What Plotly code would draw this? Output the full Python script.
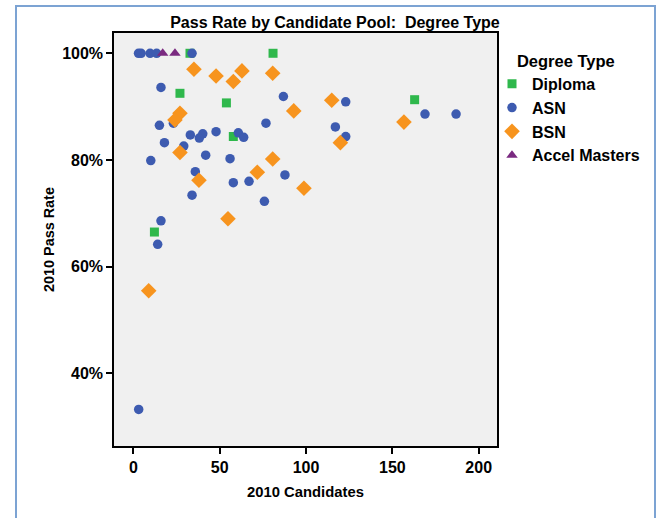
import plotly.graph_objects as go

# 2010 candidates vs. 2010 pass rate (%) per program, grouped by degree type
diploma_x = [32.8, 80.9, 27.0, 53.9, 57.9, 12.2, 162.9]
diploma_y = [100.0, 100.0, 92.5, 90.7, 84.4, 66.5, 91.3]

asn_x = [3.0, 4.5, 9.7, 13.5, 34.0, 16.0, 86.9, 23.2, 15.1, 76.8, 33.0, 40.2, 38.2,
         47.9, 60.8, 63.9, 18.0, 29.2, 41.9, 56.0, 10.1, 87.8, 35.9, 57.9, 67.0,
         34.0, 75.9, 16.0, 14.1, 3.1, 123.0, 168.9, 186.9, 117.0, 123.0]
asn_y = [100.0, 100.0, 100.0, 100.0, 100.0, 93.6, 91.9, 86.9, 86.5, 86.9, 84.7, 84.9, 84.1,
         85.3, 85.1, 84.25, 83.25, 82.6, 80.9, 80.25, 79.9, 77.2, 77.8, 75.75, 76.0,
         73.4, 72.25, 68.6, 64.2, 33.25, 90.9, 88.6, 88.6, 86.2, 84.4]

bsn_x = [35.1, 47.9, 62.9, 57.9, 80.7, 92.9, 27.0, 24.1, 27.0, 80.7, 71.8, 38.0,
         98.8, 54.8, 8.9, 114.9, 156.7, 119.9]
bsn_y = [97.0, 95.75, 96.7, 94.7, 96.25, 89.2, 88.75, 87.5, 81.4, 80.2, 77.7, 76.2,
         74.7, 69.0, 55.5, 91.2, 87.1, 83.25]

accel_x = [17.0, 24.1]
accel_y = [100.0, 100.0]

x_ticks = [0, 50, 100, 150, 200]
y_ticks = [40, 60, 80, 100]
y_tick_labels = ["40%", "60%", "80%", "100%"]

FONT = "Liberation Sans, Arial, sans-serif"

series = [
    ("Diploma", diploma_x, diploma_y, "square", "#2fb84c", 9),
    ("ASN", asn_x, asn_y, "circle", "#3d5bb0", 9.5),
    ("BSN", bsn_x, bsn_y, "diamond", "#f7941e", 12),
    ("Accel Masters", accel_x, accel_y, "triangle-up", "#7a2a80", 10),
]

fig = go.Figure()
for name, xs, ys, symbol, color, size in series:
    fig.add_trace(go.Scatter(
        x=xs, y=ys, mode="markers", name=name,
        marker=dict(symbol=symbol, color=color, size=size, line=dict(width=0)),
    ))

axis_common = dict(
    showgrid=False, zeroline=False, showline=True, linecolor="black", linewidth=1.5,
    mirror=True, ticks="outside", ticklen=6, tickwidth=1.5, tickcolor="black",
    tickfont=dict(family=FONT, size=16, color="black", weight="bold"),
)

fig.update_xaxes(
    range=[-11.2, 210.6], tickvals=x_ticks,
    title=dict(text="<b>2010 Candidates</b>", font=dict(family=FONT, size=14.8, color="black"),
               standoff=12),
    **axis_common,
)
fig.update_yaxes(
    range=[26.4, 103.8], tickvals=y_ticks, ticktext=y_tick_labels,
    title=dict(text="<b>2010 Pass Rate</b>", font=dict(family=FONT, size=14.4, color="black"),
               standoff=4),
    **axis_common,
)

fig.update_layout(
    width=665, height=518,
    margin=dict(l=114, r=168, t=33, b=72),
    paper_bgcolor="white", plot_bgcolor="#f0f0f0",
    title=dict(text="<b>Pass Rate by Candidate Pool:  Degree Type</b>",
               font=dict(family=FONT, size=16, color="black"),
               x=0.577, xref="paper", xanchor="center",
               y=1 - 22 / 518, yref="container", yanchor="middle"),
    legend=dict(
        title=dict(text="<b>&nbsp;&nbsp;&nbsp;&nbsp;&nbsp;Degree Type</b>",
                   font=dict(family=FONT, size=16.5, color="black")),
        font=dict(family=FONT, size=16, color="black", weight="bold"),
        # legend x is given relative to the plot area's right edge
        x=1 + (492 - 497) / 383, xref="paper", xanchor="left",
        y=0.970, yanchor="top",
        bgcolor="rgba(0,0,0,0)", itemwidth=30, tracegroupgap=0,
    ),
    shapes=[dict(
        type="rect", xref="paper", yref="paper",
        x0=(16 - 114) / 383, x1=(655 - 114) / 383,
        y0=(446 - 540) / 413, y1=(446 - 6) / 413,
        line=dict(color="#7ca3d3", width=2), fillcolor="rgba(0,0,0,0)", layer="below",
    )],
)

fig.write_html("out.html")
